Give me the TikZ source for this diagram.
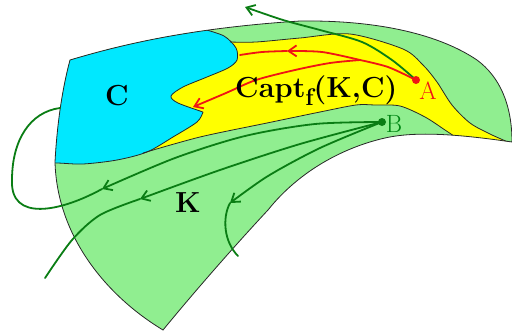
\documentclass[tikz,border=0pt]{standalone}
\usetikzlibrary{arrows.meta}
\definecolor{kgreen}{RGB}{144,238,144}
\definecolor{ccyan}{RGB}{0,232,255}
\definecolor{yel}{RGB}{255,255,0}
\definecolor{traj}{RGB}{10,125,20}
\definecolor{redc}{RGB}{240,20,20}
\definecolor{bgreen}{RGB}{0,135,20}
\definecolor{edge}{RGB}{40,40,40}
\tikzset{
  region/.style={draw=edge, line width=0.8pt},
  trajline/.style={draw=traj, line width=1.8pt, line cap=round},
  redline/.style={draw=redc, line width=1.8pt, line cap=round},
  barb/.style={-{Straight Barb[length=8pt,width=11pt]}},
  lab/.style={inner sep=0pt, font=\fontsize{29}{30}\selectfont\bfseries},
  ptlab/.style={inner sep=0pt, font=\fontsize{25}{26}\selectfont},
  dot/.style={circle, inner sep=0pt, minimum size=8pt},
}
\def\outerK{(70,60) .. controls (120,45) and (190,28) .. (300,21) .. controls (380,20) and (440,35) .. (477,60) .. controls (500,77) and (512,105) .. (512,142) .. controls (470,136) and (420,130) .. (385,138) .. controls (345,147) and (300,170) .. (268,210) .. controls (240,240) and (200,285) .. (163,330) .. controls (105,295) and (57,235) .. (55,162) .. controls (57,125) and (62,90) .. (70,60) -- cycle}
\begin{document}
\begin{tikzpicture}[x=1pt,y=-1pt]
\useasboundingbox (0,0) rectangle (512,333);
\fill[kgreen] \outerK;
\begin{scope}
  \clip \outerK;
  % yellow capture basin
  \fill[yel] (60,150) -- (60,0) -- (190,0) -- (203,29) -- (230,42)
    -- plot[smooth] coordinates {(230,42) (256,42) (300,38) (350,34) (403,49) (423,65) (437,82) (452,105) (470,123) (490,134) (508,142)}
    -- (530,142) -- (530,180) -- (458,180)
    -- plot[smooth] coordinates {(457,138) (445,130) (425,117) (400,106) (375,105) (356,105) (320,112) (267,123) (200,137) (143,153)}
    -- (100,152) -- cycle;
  % cyan target C
  \fill[ccyan] (30,0) -- (195,0)
    -- plot[smooth] coordinates {(203,29) (224,36) (236,48) (237,60) (228,68) (207,77) (183,87) (171,96) (178,103) (203,112)}
    -- plot[smooth] coordinates {(203,112) (197,122) (173,137) (147,152) (117,160) (83,164) (57,163) (30,163)}
    -- cycle;
  \draw[region] plot[smooth] coordinates {(203,29) (224,36) (236,48) (237,60) (228,68) (207,77) (183,87) (171,96) (178,103) (203,112)}
    plot[smooth] coordinates {(203,112) (197,122) (173,137) (147,152) (117,160) (83,164) (57,163) (30,163)};
  \draw[region] plot[smooth] coordinates {(230,42) (256,42) (300,38) (350,34) (403,49) (423,65) (437,82) (452,105) (470,123) (490,134) (508,142)};
  \draw[region] plot[smooth] coordinates {(457,138) (445,130) (425,117) (400,106) (375,105) (356,105) (320,112) (267,123) (200,137) (143,153)};
\end{scope}
\draw[region] \outerK;

% points
\coordinate (A) at (416,80);
\coordinate (B) at (382,122);
\coordinate (m1) at (102,189);
\coordinate (m2) at (140,199);
\coordinate (m3) at (230,203);
\coordinate (mr) at (287,51);
\coordinate (sp) at (360,60);

% trajectories from B
\draw[trajline, barb] plot[smooth] coordinates {(B) (315,124) (245,136) (175,158) (m1)};
\draw[trajline] (m1) .. controls (60,212) and (10,222) .. (12,180) .. controls (12,140) and (30,112) .. (60,108);
\draw[trajline, barb] plot[smooth] coordinates {(B) (300,144) (220,170) (m2)};
\draw[trajline] plot[smooth] coordinates {(m2) (100,215) (72,240) (45,278)};
\draw[trajline, barb] plot[smooth] coordinates {(B) (320,148) (268,176) (m3)};
\draw[trajline] (m3) .. controls (222,218) and (224,242) .. (238,256);

% trajectories from A
\draw[trajline, barb] plot[smooth] coordinates {(A) (392,60) (362,42) (320,30) (283,20) (245,7)};
\draw[redline] plot[smooth] coordinates {(A) (388,67) (sp)};
\draw[redline, barb] plot[smooth] coordinates {(sp) (330,63) (295,70) (256,80) (226,93) (193,107)};
\draw[redline, barb] plot[smooth] coordinates {(sp) (322,52) (mr)};
\draw[redline] plot[smooth] coordinates {(mr) (262,52) (240,55)};

\node[dot, fill=redc] (Adot) at (A) {};
\node[dot, fill=traj] (Bdot) at (B) {};

% labels
\node[lab] (Clab) at (117,96) {C};
\node[lab, anchor=base west] (capt) at (235,97) {Capt\raisebox{-8pt}{\fontsize{24}{24}\selectfont f}(K,C)};
\node[ptlab, text=redc] (Alab) at (428,91) {A};
\node[ptlab, text=bgreen] (Blab) at (394,124) {B};
\node[lab] (Klab) at (188,203) {K};
\end{tikzpicture}
\end{document}
